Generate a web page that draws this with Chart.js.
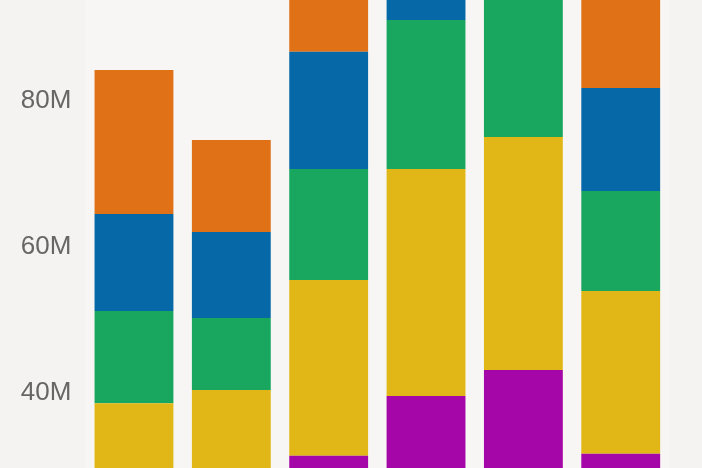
<!DOCTYPE html>
<html>
<head>
<meta charset="utf-8">
<script src="https://cdn.jsdelivr.net/npm/chart.js@4/dist/chart.umd.min.js"></script>
<style>
  html, body { margin: 0; padding: 0; background: #f4f3f1; }
  #wrap { width: 702px; height: 468px; position: relative; }
</style>
</head>
<body>
<div id="wrap"><canvas id="c"></canvas></div>
<script>
// Categories (x-axis labels are cropped out of the view)
const categories = ["A", "B", "C", "D", "E", "F"];

// Series values, in millions (stacked bottom to top)
const purpleValues = [22, 25, 31.34, 39.52, 43.08, 31.62];
const yellowValues = [16.52, 15.34, 24.08, 31.12, 31.94, 22.29];
const greenValues  = [12.65, 9.87, 15.22, 20.42, 22, 13.71];
const blueValues   = [13.30, 11.80, 16.08, 14, 13, 14.12];
const orangeValues = [19.74, 12.60, 13, 15, 12, 16];

// Visible y range and tick labels (millions)
const yMin = 29.65;
const yMax = 93.8;
const yTickValues = [40, 60, 80];

const areaBg = {
  id: 'areaBg',
  beforeDraw(chart) {
    const { ctx, chartArea: a } = chart;
    ctx.save();
    ctx.fillStyle = '#f7f6f4';
    ctx.fillRect(a.left, a.top, a.right - a.left, a.bottom - a.top);
    ctx.restore();
  }
};

new Chart(document.getElementById('c'), {
  type: 'bar',
  data: {
    labels: categories,
    datasets: [
      { label: 'Purple', data: purpleValues, backgroundColor: '#a406a7' },
      { label: 'Yellow', data: yellowValues, backgroundColor: '#e1b717' },
      { label: 'Green',  data: greenValues,  backgroundColor: '#19a760' },
      { label: 'Blue',   data: blueValues,   backgroundColor: '#0768a8' },
      { label: 'Orange', data: orangeValues, backgroundColor: '#e07117' }
    ]
  },
  options: {
    responsive: true,
    maintainAspectRatio: false,
    animation: false,
    layout: { padding: { left: 0, right: 32.6, top: 0, bottom: 0 } },
    plugins: { legend: { display: false }, tooltip: { enabled: false } },
    datasets: { bar: { categoryPercentage: 0.9, barPercentage: 0.9, borderWidth: 0 } },
    scales: {
      x: { stacked: true, display: false },
      y: {
        stacked: true,
        min: yMin,
        max: yMax,
        border: { display: false },
        grid: { display: false, drawTicks: false },
        ticks: {
          padding: 14,
          color: '#666666',
          font: { size: 26, family: "'Liberation Sans', Arial, sans-serif" },
          callback: (v) => v + 'M'
        },
        afterBuildTicks(scale) {
          scale.ticks = yTickValues.map(v => ({ value: v }));
        },
        afterFit(scale) {
          scale.width = 85.3;
          scale.paddingTop = 0;
          scale.paddingBottom = 0;
        }
      }
    }
  },
  plugins: [areaBg]
});
</script>
</body>
</html>
